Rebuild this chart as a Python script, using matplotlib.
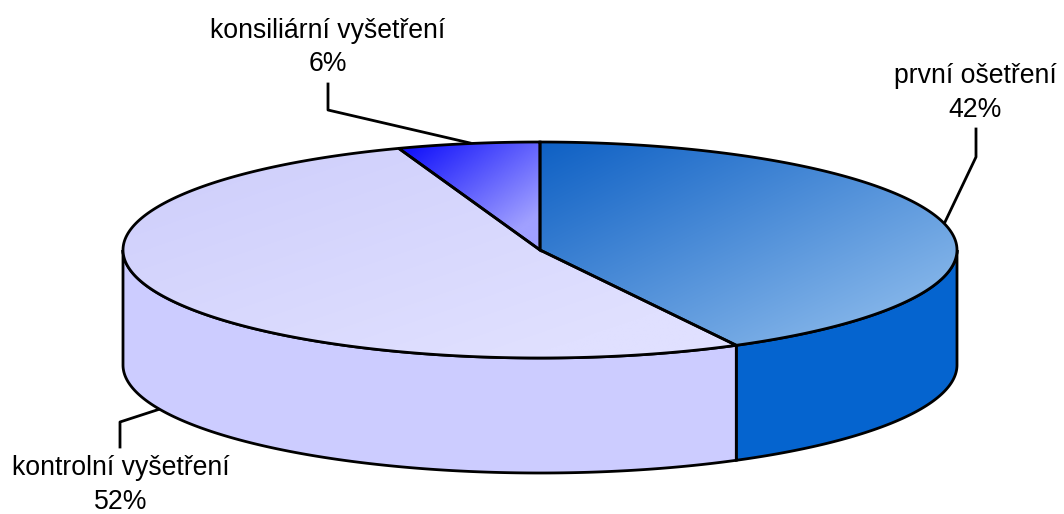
import numpy as np
import matplotlib
matplotlib.use('Agg')
import matplotlib.pyplot as plt
from matplotlib.patches import Polygon

plt.rcParams['font.family'] = ['Liberation Sans', 'DejaVu Sans']

labels = ['první ošetření', 'kontrolní vyšetření', 'konsiliární vyšetření']
pct_labels = ['42%', '52%', '6%']
# slice sizes, the labels are rounded
shares = [42.2, 52.3, 5.5]
top_light = ['#0e60c4', '#cdcdfb', '#0808fa']
top_dark = ['#80b2e8', '#e0e0ff', '#a0a0ff']
side_colors = ['#0564cf', '#ccccff', '#9999ff']

# pie geometry in pixels
cx, cy = 540, 250
rx, ry = 417, 108
depth = 115

def rim(a0, a1, n=200):
    a = np.radians(np.linspace(a0, a1, n))
    return cx + rx*np.sin(a), cy - ry*np.cos(a)

f = plt.figure(figsize=(10.64, 5.14), dpi=100)
ax = f.add_axes([0, 0, 1, 1])
ax.set_xlim(0, 1064)
ax.set_ylim(514, 0)
ax.axis('off')

edges = np.cumsum([0] + shares) * 3.6
lw = 2.0

# side walls, only the front half (90..270 clockwise from top) shows
for i in range(3):
    a0, a1 = max(edges[i], 90), min(edges[i+1], 270)
    if a0 >= a1:
        continue
    x, y = rim(a0, a1)
    px = np.r_[x, x[::-1]]
    py = np.r_[y, y[::-1] + depth]
    ax.add_patch(Polygon(np.c_[px, py], fc=side_colors[i], ec='black', lw=lw, zorder=2))

# top faces with a diagonal gradient
for i in range(3):
    x, y = rim(edges[i], edges[i+1])
    px = np.r_[cx, x]
    py = np.r_[cy, y]
    poly = Polygon(np.c_[px, py], fc='none', ec='none', transform=ax.transData)
    ax.add_patch(poly)
    x0, x1, y0, y1 = px.min(), px.max(), py.min(), py.max()
    gx, gy = np.meshgrid(np.linspace(0, 1, 200), np.linspace(0, 1, 200))
    g = np.clip((gx + gy) / 1.65, 0, 1)
    c0 = np.array(matplotlib.colors.to_rgb(top_light[i]))
    c1 = np.array(matplotlib.colors.to_rgb(top_dark[i]))
    img = c0 + (c1 - c0) * g[..., None]
    im = ax.imshow(img, extent=[x0, x1, y1, y0], aspect='auto', zorder=3, interpolation='bilinear')
    im.set_clip_path(poly)
    ax.add_patch(Polygon(np.c_[px, py], fc='none', ec='black', lw=lw, zorder=4))

ax.set_xlim(0, 1064)
ax.set_ylim(514, 0)

# leader lines
ax.plot([945, 976, 976], [222, 157, 129], color='black', lw=lw, zorder=1)
ax.plot([470, 328, 328], [143, 110, 84], color='black', lw=lw, zorder=1)
ax.plot([160, 120, 120], [409, 422, 447], color='black', lw=lw, zorder=1)

fs = 19.2
sp = 1.36
ax.text(975, 93, f'{labels[0]}\n{pct_labels[0]}', ha='center', va='center', fontsize=fs, linespacing=sp)
ax.text(121, 485, f'{labels[1]}\n{pct_labels[1]}', ha='center', va='center', fontsize=fs, linespacing=sp)
ax.text(328, 47.5, f'{labels[2]}\n{pct_labels[2]}', ha='center', va='center', fontsize=fs, linespacing=sp)

f.savefig('out.png', dpi=100)
